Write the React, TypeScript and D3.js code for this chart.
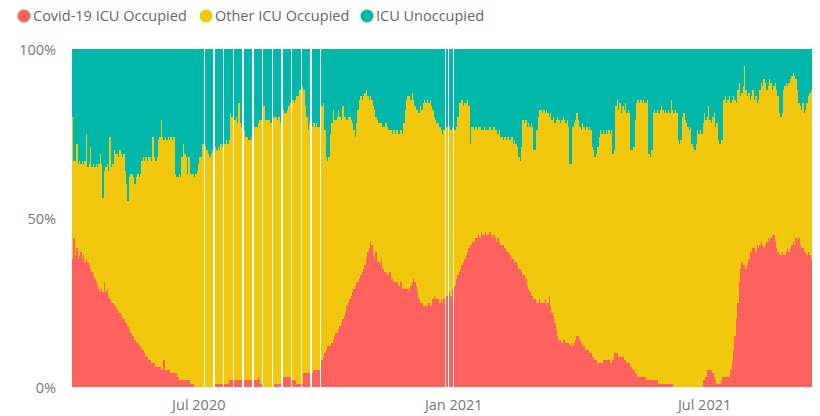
import React from "react";
import * as d3 from "d3";

// Daily ICU bed shares (% of all ICU beds), starting 1 Apr 2020. null = no report that day.
const startDate = new Date(2020, 3, 1);

const covidPct: (number | null)[] = [
  38, 44, 39, 41, 38, 39, 40, 38, 39, 37,
  38, 37, 36, 35, 34, 33, 32, 31, 30, 29,
  28, 29, 28, 31, 28, 29, 27, 26, 25, 25,
  24, 24, 23, 22, 22, 21, 20, 20, 19, 19,
  18, 17, 16, 15, 15, 14, 13, 13, 12, 12,
  11, 11, 10, 9, 9, 8, 8, 7, 7, 7,
  6, 6, 6, 6, 5, 5, 8, 5, 5, 5,
  5, 4, 4, 4, 4, 4, 3, 2, 2, 2,
  2, 2, 2, 2, 2, 1, 1, 1, 0, 0,
  0, 0, 0, 0, 0, null, 0, 0, 0, 0,
  0, 0, null, 1, 1, 1, 1, 1, 1, null,
  1, 1, 1, 2, 2, 2, null, 2, 2, 2,
  2, 2, 2, null, 2, 2, 2, 2, 2, 2,
  null, 2, 2, 2, 3, 2, 1, null, 0, 0,
  0, 0, 0, 0, null, 0, 1, 1, 1, 1,
  1, null, 3, 3, 3, 3, 3, 3, null, 2,
  2, 2, 1, 1, 1, null, 1, 4, 4, 4,
  4, 4, null, 4, 5, 5, 5, 5, 5, null,
  8, 9, 10, 11, 12, 12, 12, 13, 14, 15,
  16, 16, 17, 18, 19, 20, 21, 22, 24, 25,
  26, 27, 28, 29, 30, 31, 31, 32, 33, 34,
  35, 36, 38, 40, 41, 43, 42, 39, 38, 40,
  37, 37, 36, 38, 35, 34, 34, 33, 33, 34,
  32, 32, 31, 31, 31, 30, 30, 31, 29, 29,
  29, 29, 29, 28, 30, 31, 32, 31, 30, 28,
  26, 25, 25, 24, 24, 24, 24, 25, 24, 24,
  26, 27, 26, 26, 26, 25, 26, 25, 26, null,
  27, null, 28, 27, 29, null, 30, 32, 33, 34,
  35, 36, 37, 38, 39, 40, 41, 42, 42, 43,
  43, 44, 44, 45, 44, 46, 45, 45, 46, 45,
  45, 46, 45, 44, 45, 44, 43, 44, 43, 42,
  42, 42, 41, 40, 40, 39, 39, 38, 38, 37,
  37, 36, 35, 35, 34, 33, 33, 32, 30, 29,
  28, 27, 27, 26, 26, 25, 25, 26, 25, 25,
  25, 26, 24, 25, 27, 24, 22, 21, 19, 17,
  15, 14, 14, 13, 14, 14, 13, 13, 13, 12,
  13, 12, 13, 14, 15, 15, 14, 13, 12, 12,
  11, 11, 11, 10, 10, 9, 9, 8, 8, 7,
  7, 7, 7, 8, 8, 8, 8, 8, 7, 7,
  8, 10, 10, 10, 9, 9, 9, 9, 8, 8,
  7, 7, 7, 6, 5, 5, 4, 4, 3, 3,
  3, 3, 3, 3, 2, 2, 2, 2, 2, 2,
  2, 2, 2, 1, 1, 1, 1, 1, 1, 1,
  1, 1, 1, 1, 0, 0, 0, 0, 0, 0,
  0, 0, 0, 0, 0, 0, 0, 0, 0, 0,
  0, 0, 0, 0, 0, 2, 2, 3, 5, 5,
  5, 5, 4, 3, 2, 1, 1, 1, 2, 3,
  3, 3, 3, 3, 3, 5, 7, 11, 15, 20,
  25, 31, 35, 37, 36, 36, 35, 36, 38, 40,
  40, 41, 41, 40, 42, 41, 42, 43, 42, 41,
  42, 43, 44, 43, 44, 45, 45, 43, 41, 40,
  39, 39, 40, 39, 39, 40, 41, 40, 41, 42,
  43, 42, 44, 43, 44, 42, 41, 41, 40, 40,
  39, 40, 39, 38,
];

// Total occupied share (Covid-19 + other patients)
const occupiedPct: (number | null)[] = [
  80, 67, 67, 72, 66, 67, 66, 67, 66, 67,
  75, 65, 66, 71, 65, 66, 65, 66, 65, 66,
  69, 66, 56, 64, 65, 66, 64, 74, 65, 66,
  70, 69, 69, 68, 70, 69, 68, 69, 64, 60,
  55, 62, 63, 63, 62, 60, 62, 63, 62, 63,
  67, 68, 67, 68, 67, 68, 68, 67, 74, 68,
  67, 68, 73, 74, 79, 74, 73, 74, 73, 74,
  73, 74, 73, 74, 63, 62, 62, 63, 62, 68,
  72, 69, 68, 63, 68, 63, 63, 63, 62, 63,
  64, 66, 68, 68, 72, null, 71, 70, 69, 68,
  69, 70, null, 71, 70, 71, 70, 72, 71, null,
  72, 73, 72, 73, 81, 80, null, 79, 80, 78,
  84, 78, 77, null, 76, 74, 74, 73, 73, 74,
  null, 77, 77, 77, 78, 79, 79, null, 83, 79,
  79, 79, 79, 78, null, 80, 80, 80, 79, 80,
  78, null, 82, 81, 81, 82, 83, 84, null, 85,
  84, 85, 86, 86, 88, null, 89, 88, 83, 80,
  76, 78, null, 77, 78, 77, 78, 77, 77, null,
  83, 84, 76, 68, 67, 68, 75, 78, 82, 79,
  79, 80, 82, 80, 79, 83, 80, 80, 79, 80,
  80, 79, 78, 76, 74, 78, 82, 85, 86, 85,
  86, 87, 88, 86, 85, 86, 85, 83, 82, 80,
  79, 78, 78, 78, 77, 77, 78, 77, 76, 76,
  76, 75, 76, 75, 76, 75, 75, 76, 75, 78,
  82, 85, 86, 86, 85, 87, 85, 83, 82, 82,
  81, 83, 82, 84, 85, 84, 85, 84, 85, 83,
  82, 80, 79, 78, 78, 77, 76, 75, 76, null,
  77, null, 77, 76, 77, null, 76, 77, 80, 84,
  84, 85, 83, 84, 84, 85, 83, 72, 77, 77,
  76, 77, 76, 77, 77, 76, 76, 77, 76, 76,
  76, 77, 76, 76, 77, 76, 76, 75, 76, 74,
  74, 73, 74, 73, 74, 73, 73, 74, 72, 73,
  72, 71, 68, 67, 71, 79, 78, 79, 77, 78,
  77, 78, 77, 70, 70, 76, 80, 82, 82, 81,
  82, 81, 82, 81, 80, 81, 79, 80, 78, 79,
  80, 79, 78, 79, 80, 79, 78, 79, 77, 66,
  66, 77, 78, 79, 81, 79, 77, 76, 78, 77,
  76, 77, 76, 77, 76, 71, 70, 68, 69, 71,
  74, 76, 75, 76, 75, 76, 75, 76, 75, 76,
  69, 70, 83, 85, 82, 84, 81, 83, 82, 84,
  81, 82, 81, 70, 70, 71, 79, 84, 85, 84,
  85, 84, 85, 84, 84, 85, 69, 68, 70, 81,
  82, 81, 82, 81, 82, 83, 82, 81, 82, 81,
  82, 81, 85, 82, 81, 82, 81, 73, 72, 73,
  80, 81, 79, 78, 77, 76, 77, 72, 71, 70,
  72, 76, 75, 76, 75, 78, 81, 79, 80, 83,
  79, 78, 80, 81, 77, 78, 73, 72, 73, 73,
  85, 86, 84, 85, 86, 84, 85, 86, 85, 84,
  88, 90, 86, 87, 89, 95, 88, 86, 87, 85,
  86, 88, 85, 86, 84, 85, 88, 90, 89, 91,
  90, 88, 89, 91, 90, 88, 89, 90, 88, 86,
  81, 80, 81, 88, 89, 90, 89, 90, 91, 92,
  93, 92, 91, 88, 84, 83, 82, 84, 81, 82,
  84, 86, 87, 88,
];

const seriesKeys = ["covid", "other", "unoccupied"];
const seriesNames = ["Covid-19 ICU Occupied", "Other ICU Occupied", "ICU Unoccupied"];
const seriesColors = ["#FD625E", "#F2C80F", "#01B8AA"];

const yTickValues = [0, 0.5, 1];
const yTickLabels = ["0%", "50%", "100%"];
const xTickDates = [new Date(2020, 6, 1), new Date(2021, 0, 1), new Date(2021, 6, 1)];
const xTickLabels = ["Jul 2020", "Jan 2021", "Jul 2021"];

const W = 820;
const H = 416;
const plot = { left: 72, right: 812, top: 49, bottom: 387 };
const FONT = "'Segoe UI', 'Open Sans', 'Noto Sans', sans-serif";

type Row = { date: Date; covid: number; other: number; unoccupied: number };

export default function App() {
  const rows: Row[] = [];
  covidPct.forEach((c, i) => {
    const o = occupiedPct[i];
    if (c == null || o == null) return;
    rows.push({
      date: d3.timeDay.offset(startDate, i),
      covid: c,
      other: o - c,
      unoccupied: 100 - o,
    });
  });

  const endDate = d3.timeDay.offset(startDate, covidPct.length);
  const x = d3.scaleTime().domain([startDate, endDate]).range([plot.left, plot.right]);
  const y = d3.scaleLinear().domain([0, 1]).range([plot.bottom, plot.top]);
  const dayW = x(d3.timeDay.offset(startDate, 1)) - x(startDate);

  const stacked = d3
    .stack<Row>()
    .keys(seriesKeys)
    .offset(d3.stackOffsetExpand)(rows);

  const legendX = [24, 206, 367];

  return (
    <svg
      width={W}
      height={H}
      style={{ position: "absolute", left: 0, top: 0, background: "#fff" }}
      fontFamily={FONT}
    >
      {/* legend */}
      {seriesNames.map((name, k) => (
        <g key={name} transform={`translate(${legendX[k]},16)`}>
          <circle r={6.5} fill={seriesColors[k]} />
          <text x={9} y={5} fontSize={14.5} fill="#666">
            {name}
          </text>
        </g>
      ))}

      {/* stacked daily columns */}
      {stacked.map((layer, k) => (
        <g key={layer.key} fill={seriesColors[k]} shapeRendering="crispEdges">
          {layer.map((d, j) => (
            <rect
              key={j}
              x={x(d.data.date)}
              width={dayW}
              y={y(d[1])}
              height={y(d[0]) - y(d[1])}
            />
          ))}
        </g>
      ))}

      {/* y axis labels */}
      {yTickValues.map((v, k) => (
        <text
          key={v}
          x={56}
          y={y(v) + 6}
          textAnchor="end"
          fontSize={14.5}
          fill="#777"
        >
          {yTickLabels[k]}
        </text>
      ))}

      {/* x axis labels */}
      {xTickDates.map((dt, k) => (
        <text
          key={k}
          x={x(dt) + dayW / 2}
          y={410}
          textAnchor="middle"
          fontSize={14.5}
          fill="#777"
        >
          {xTickLabels[k]}
        </text>
      ))}
    </svg>
  );
}
